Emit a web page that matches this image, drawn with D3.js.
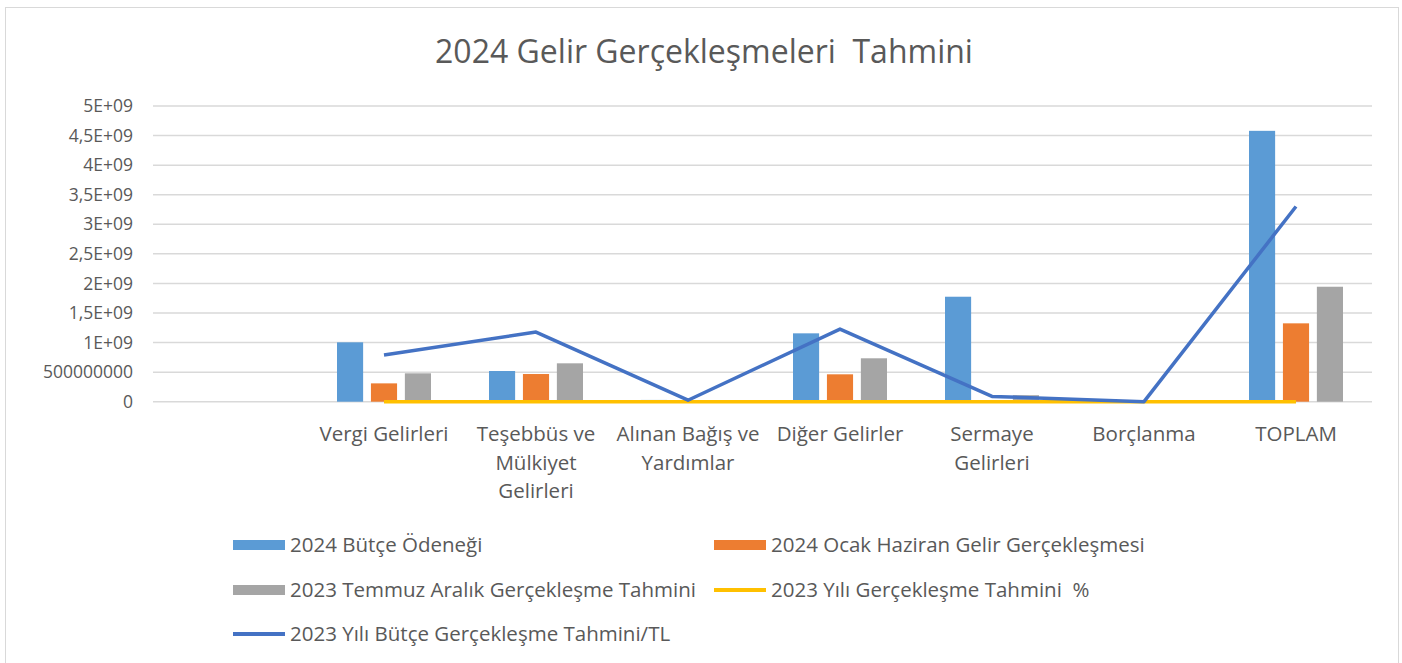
<!DOCTYPE html>
<html>
<head>
<meta charset="utf-8">
<script src="https://cdn.jsdelivr.net/npm/d3@7"></script>
<style>
  body { margin: 0; background: #fff; }
  svg { display: block; font-family: "Open Sans", "Noto Sans", sans-serif; }
  text { white-space: pre; }
</style>
</head>
<body>
<svg id="chart" width="1402" height="663"></svg>
<script>
const categories = ["", "Vergi Gelirleri", "Teşebbüs ve|Mülkiyet|Gelirleri", "Alınan Bağış ve|Yardımlar",
  "Diğer Gelirler", "Sermaye|Gelirleri", "Borçlanma", "TOPLAM"];

const butce2024 = [null, 1.004e9, 5.19e8, 3.0e7, 1.156e9, 1.775e9, 0, 4.58e9];
const ocakHaziran2024 = [null, 3.1e8, 4.68e8, 1.0e7, 4.63e8, 5.0e6, 0, 1.325e9];
const temmuzAralik2023 = [null, 4.8e8, 6.49e8, 1.5e7, 7.34e8, 1.1e8, 0, 1.944e9];
const tahminYuzde2023 = [null, 79, 101, 52, 106, 6, 0, 72];
const tahminTL2023 = [null, 7.9e8, 1.178e9, 2.5e7, 1.228e9, 9.0e7, 0, 3.3e9];

const yTickValues = [0, 5e8, 1e9, 1.5e9, 2e9, 2.5e9, 3e9, 3.5e9, 4e9, 4.5e9, 5e9];
const yTickLabels = ["0", "500000000", "1E+09", "1,5E+09", "2E+09", "2,5E+09", "3E+09",
  "3,5E+09", "4E+09", "4,5E+09", "5E+09"];

const TITLE = "2024 Gelir Gerçekleşmeleri  Tahmini";
const TEXT_COLOR = "#595959";

const barSeries = [
  { name: "2024 Bütçe Ödeneği", values: butce2024, color: "#5b9bd5" },
  { name: "2024 Ocak Haziran Gelir Gerçekleşmesi", values: ocakHaziran2024, color: "#ed7d31" },
  { name: "2023 Temmuz Aralık Gerçekleşme Tahmini", values: temmuzAralik2023, color: "#a5a5a5" },
];
const lineSeries = [
  { name: "2023 Yılı Gerçekleşme Tahmini  %", values: tahminYuzde2023, color: "#ffc000" },
  { name: "2023 Yılı Bütçe Gerçekleşme Tahmini/TL", values: tahminTL2023, color: "#4472c4" },
];

const svg = d3.select("#chart");

// chart frame
svg.append("rect")
  .attr("x", 5.5).attr("y", 7.5)
  .attr("width", 1393).attr("height", 670)
  .attr("fill", "#fff")
  .attr("stroke", "#d9d9d9");

svg.append("text")
  .attr("x", 704).attr("y", 63)
  .attr("text-anchor", "middle")
  .attr("fill", TEXT_COLOR)
  .attr("font-size", 32)
  .text(TITLE);

const x = d3.scaleBand().domain(d3.range(categories.length)).range([156, 1372]);
const xSub = d3.scaleBand().domain(d3.range(barSeries.length)).range([-47, 47]).paddingInner(0.23);
const y = d3.scaleLinear().domain([0, 5e9]).range([401.7, 106]);

// gridlines
svg.append("g")
  .selectAll("line")
  .data(yTickValues)
  .join("line")
  .attr("x1", 153).attr("x2", 1372)
  .attr("y1", (d) => y(d)).attr("y2", (d) => y(d))
  .attr("stroke", "#d9d9d9")
  .attr("stroke-width", 1.5);

// y axis labels
const yAxis = d3.axisLeft(y)
  .tickValues(yTickValues)
  .tickFormat((d, i) => yTickLabels[i])
  .tickSize(0)
  .tickPadding(0);
const yAxisG = svg.append("g").attr("transform", "translate(133,0)").call(yAxis);
yAxisG.select(".domain").remove();
yAxisG.selectAll("text")
  .attr("fill", TEXT_COLOR)
  .attr("font-size", 17.5)
  .attr("font-family", "Open Sans, sans-serif");

// bars
barSeries.forEach((s, si) => {
  svg.append("g")
    .selectAll("rect")
    .data(s.values.map((v, i) => ({ i, v })).filter((d) => d.v !== null))
    .join("rect")
    .attr("x", (d) => x(d.i) + x.bandwidth() / 2 + xSub(si))
    .attr("width", xSub.bandwidth())
    .attr("y", (d) => y(d.v))
    .attr("height", (d) => y(0) - y(d.v))
    .attr("fill", s.color);
});

// lines
const line = d3.line()
  .defined((d) => d.v !== null)
  .x((d) => x(d.i) + x.bandwidth() / 2)
  .y((d) => y(d.v));

lineSeries.forEach((s) => {
  svg.append("path")
    .datum(s.values.map((v, i) => ({ i, v })))
    .attr("d", line)
    .attr("fill", "none")
    .attr("stroke", s.color)
    .attr("stroke-width", 3.5)
    .attr("stroke-linejoin", "round");
});

// category labels
const catG = svg.append("g");
categories.forEach((c, i) => {
  const t = catG.append("text")
    .attr("x", x(i) + x.bandwidth() / 2)
    .attr("y", 441)
    .attr("text-anchor", "middle")
    .attr("fill", TEXT_COLOR)
    .attr("font-size", 20.5);
  c.split("|").forEach((part, k) => {
    t.append("tspan")
      .attr("x", x(i) + x.bandwidth() / 2)
      .attr("dy", k === 0 ? 0 : 28.5)
      .text(part);
  });
});

// legend
const legendItems = [
  { ...barSeries[0], kind: "bar", col: 0, row: 0 },
  { ...barSeries[1], kind: "bar", col: 1, row: 0 },
  { ...barSeries[2], kind: "bar", col: 0, row: 1 },
  { ...lineSeries[0], kind: "line", col: 1, row: 1 },
  { ...lineSeries[1], kind: "line", col: 0, row: 2 },
];
const legendCols = [233, 714];
const legendRows = [545, 590, 634];

const legend = svg.append("g")
  .selectAll("g")
  .data(legendItems)
  .join("g")
  .attr("transform", (d) => `translate(${legendCols[d.col]},${legendRows[d.row]})`);

legend.filter((d) => d.kind === "bar")
  .append("rect")
  .attr("x", 0).attr("y", -5)
  .attr("width", 52).attr("height", 10)
  .attr("fill", (d) => d.color);

legend.filter((d) => d.kind === "line")
  .append("line")
  .attr("x1", 0).attr("x2", 52)
  .attr("stroke", (d) => d.color)
  .attr("stroke-width", 4);

legend.append("text")
  .attr("x", 57)
  .attr("dy", "0.35em")
  .attr("fill", TEXT_COLOR)
  .attr("font-size", 20.5)
  .text((d) => d.name);
</script>
</body>
</html>
